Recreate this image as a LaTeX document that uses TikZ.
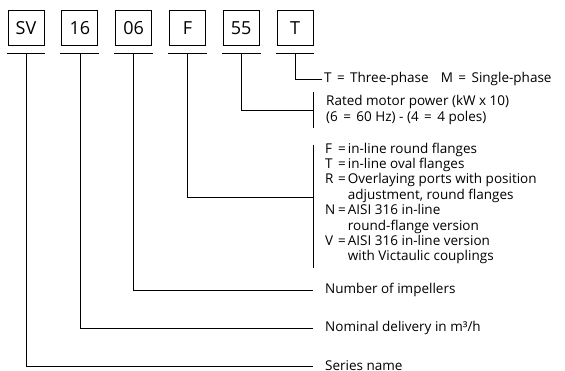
\documentclass[tikz,border=0pt]{standalone}
\usepackage{fontspec}
\setmainfont{Open Sans}
\usetikzlibrary{positioning}

\begin{document}
\begin{tikzpicture}[x=1pt,y=-1pt,
        code/.style={draw,line width=0.8pt,minimum width=36pt,minimum height=35.5pt,inner sep=0pt,font=\fontsize{18}{18}\selectfont},
        lbl/.style={anchor=west,inner sep=0pt,font=\fontsize{13.5}{15.4}\selectfont,align=left},
        lead/.style={line width=0.6pt}]
    \useasboundingbox (0,0) rectangle (565,371);
    % code boxes
    \node[code] (sv) at (26,27.75) {SV};
    \node[code,right=17pt of sv] (dlv) {16};
    \node[code,right=17pt of dlv] (imp) {06};
    \node[code,right=17pt of imp] (ver) {F};
    \node[code,right=17pt of ver] (pwr) {55};
    \node[code,right=17pt of pwr] (ph) {T};
    \foreach \b in {sv,dlv,imp,ver,pwr,ph} {
        \draw[lead] ([xshift=-1pt,yshift=-7pt]\b.south west) -- ([xshift=1pt,yshift=-7pt]\b.south east);
        \coordinate (u\b) at ([yshift=-7pt]\b.south);
    }
    % labels
    \node[lbl] (lph) at (324,79) {T\hspace{0.4em}=\hspace{0.4em}Three-phase\hspace{0.9em}M\hspace{0.4em}=\hspace{0.4em}Single-phase};
    \node[lbl] (lpwr) at (326,110) {Rated motor power (kW x 10)\\(6\hspace{0.4em}=\hspace{0.4em}60 Hz) - (4\hspace{0.4em}=\hspace{0.4em}4 poles)};
    \node[lbl] (lver) at (325,204) {\begin{tabular}{@{}p{13pt}@{}l@{\hspace{2pt}}l@{}}
        F & = & in-line round flanges\\
        T & = & in-line oval flanges\\
        R & = & Overlaying ports with position\\
          &   & adjustment, round flanges\\
        N & = & AISI 316 in-line\\
          &   & round-flange version\\
        V & = & AISI 316 in-line version\\
          &   & with Victaulic couplings
    \end{tabular}};
    \node[lbl] (limp) at (325,290) {Number of impellers};
    \node[lbl] (ldlv) at (325,328) {Nominal delivery in m³/h};
    \node[lbl] (lser) at (325,366) {Series name};
    % brackets
    \draw[lead] (313,92) -- (313,128);
    \draw[lead] (313,145) -- (313,268);
    \coordinate (bpwr) at (313,110);
    \coordinate (bver) at (313,197);
    % leaders
    \draw[lead] (uph) |- ([xshift=-2.5pt]lph.west);
    \draw[lead] (upwr) |- (bpwr);
    \draw[lead] (uver) |- (bver);
    \draw[lead] (uimp) |- ([xshift=-12pt]limp.west);
    \draw[lead] (udlv) |- ([xshift=-12pt]ldlv.west);
    \draw[lead] (usv) |- ([xshift=-12pt]lser.west);
\end{tikzpicture}
\end{document}
